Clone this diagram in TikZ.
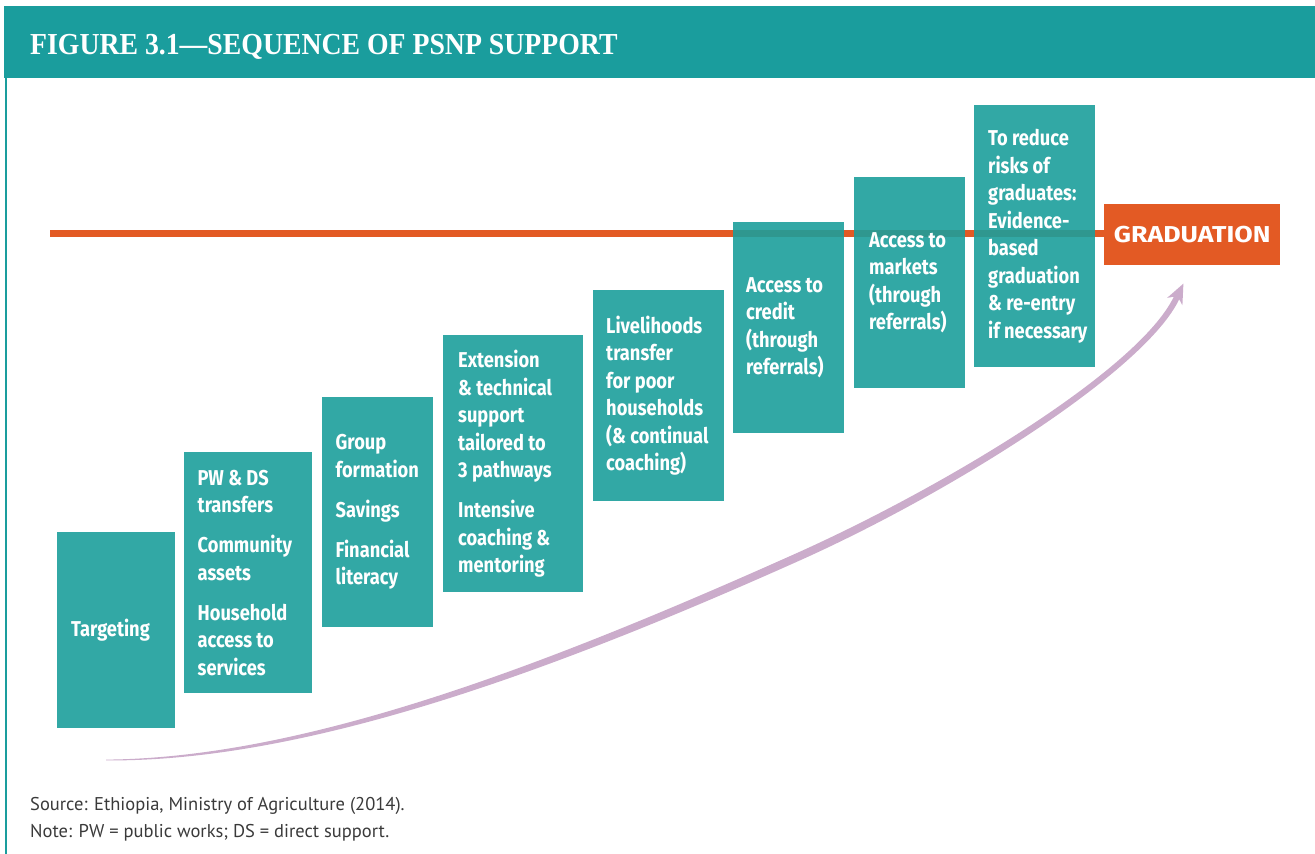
\documentclass[tikz,border=0pt]{standalone}
\usepackage{fontspec}
\setmainfont{Liberation Serif}
\newfontfamily\titlefont{Liberation Serif}[FakeStretch=0.91]
\newfontfamily\boxfont{Fira Sans}[FakeStretch=0.85]
\newfontfamily\gradfont{Fira Sans}[FakeStretch=1.16]
\newfontfamily\notefont{PT Sans}
\definecolor{headteal}{RGB}{26,157,157}
\definecolor{boxteal}{RGB}{28,158,155}
\definecolor{gradorange}{RGB}{227,90,36}
\definecolor{arrowpurple}{RGB}{203,172,203}
\definecolor{notegray}{RGB}{58,58,58}
\tikzset{
  stepbox/.style={fill=boxteal, fill opacity=0.9, draw=none, inner sep=0pt, anchor=north west},
  boxtext/.style={text=white, font=\boxfont\bfseries\fontsize{21.5}{27.5}\selectfont, align=left, inner sep=0pt, anchor=west},
  notetext/.style={text=notegray, font=\notefont\fontsize{18.5}{22}\selectfont, inner sep=0pt, anchor=base west},
  orangeline/.style={draw=gradorange, line width=6.5pt},
}
\newcommand{\gp}{\\[12.5pt]}
\begin{document}
\begin{tikzpicture}[x=1pt,y=-1pt]
\useasboundingbox (0,0) rectangle (1315,854);
% header
\fill[headteal] (4,6) rectangle (1315,78);
\fill[headteal] (4.5,78) rectangle (7.2,854);
\node[anchor=base west, text=white, inner sep=0pt, font=\titlefont\bfseries\fontsize{30.5}{30.5}\selectfont] (title) at (30,54.3) {FIGURE 3.1—SEQUENCE OF PSNP SUPPORT};
% graduation box and line
\coordinate (linestart) at (50,233.3);
\node[fill=gradorange, inner sep=0pt, minimum width=176pt, minimum height=61pt, anchor=north west, text=white, font=\gradfont\bfseries\fontsize{23}{23}\selectfont] (grad) at (1104,204) {GRADUATION};
\draw[orangeline] (linestart) -- (linestart -| grad.west);
% boxes
\node[stepbox, minimum width=118pt, minimum height=196pt] (b1) at (57,532) {};
\node[stepbox, minimum width=128pt, minimum height=241pt] (b2) at (184,452) {};
\node[stepbox, minimum width=111pt, minimum height=230pt] (b3) at (322,397) {};
\node[stepbox, minimum width=140pt, minimum height=257pt] (b4) at (443,335) {};
\node[stepbox, minimum width=131pt, minimum height=211pt] (b5) at (593,290) {};
\node[stepbox, minimum width=111pt, minimum height=211pt] (b6) at (733,222) {};
\node[stepbox, minimum width=111pt, minimum height=211pt] (b7) at (854,177) {};
\node[stepbox, minimum width=121pt, minimum height=262pt] (b8) at (974,105) {};
% texts
\node[boxtext] (t1) at ([xshift=14pt]b1.west) {Targeting};
\node[boxtext] (t2) at ([xshift=13.5pt]b2.west) {PW \& DS\\transfers\gp Community\\assets\gp Household\\access to\\services};
\node[boxtext] (t3) at ([xshift=13.5pt]b3.west) {Group\\formation\gp Savings\gp Financial\\literacy};
\node[boxtext] (t4) at ([xshift=15pt]b4.west) {Extension\\\& technical\\support\\tailored to\\3 pathways\gp Intensive\\coaching \&\\mentoring};
\node[boxtext] (t5) at ([xshift=13pt]b5.west) {Livelihoods\\transfer\\for poor\\households\\(\& continual\\coaching)};
\node[boxtext] (t6) at ([xshift=13pt]b6.west) {Access to\\credit\\(through\\referrals)};
\node[boxtext] (t7) at ([xshift=15pt]b7.west) {Access to\\markets\\(through\\referrals)};
\node[boxtext] (t8) at ([xshift=14pt]b8.west) {To reduce\\risks of\\graduates:\\Evidence-\\based\\graduation\\\& re-entry\\if necessary};
% progress arrow
\fill[arrowpurple] (106,759.6) .. controls (306,758) and (548.4,664.35) .. (798.4,552.35)
  .. controls (948.4,484.85) and (1139.3,368.7) .. (1173.8,296.7)
  -- (1167.1,297.9) -- (1183.4,283.6) -- (1182.4,305.3) -- (1179.2,299.3)
  .. controls (1144.7,371.3) and (951.6,492.15) .. (801.6,559.65)
  .. controls (551.6,671.65) and (306,762) .. (106,760.4) -- cycle;
% footer
\node[notetext] (src) at (30,810.7) {Source: Ethiopia, Ministry of Agriculture (2014).};
\node[notetext] (note) at (30,837.7) {Note: PW = public works; DS = direct support.};
\end{tikzpicture}
\end{document}
